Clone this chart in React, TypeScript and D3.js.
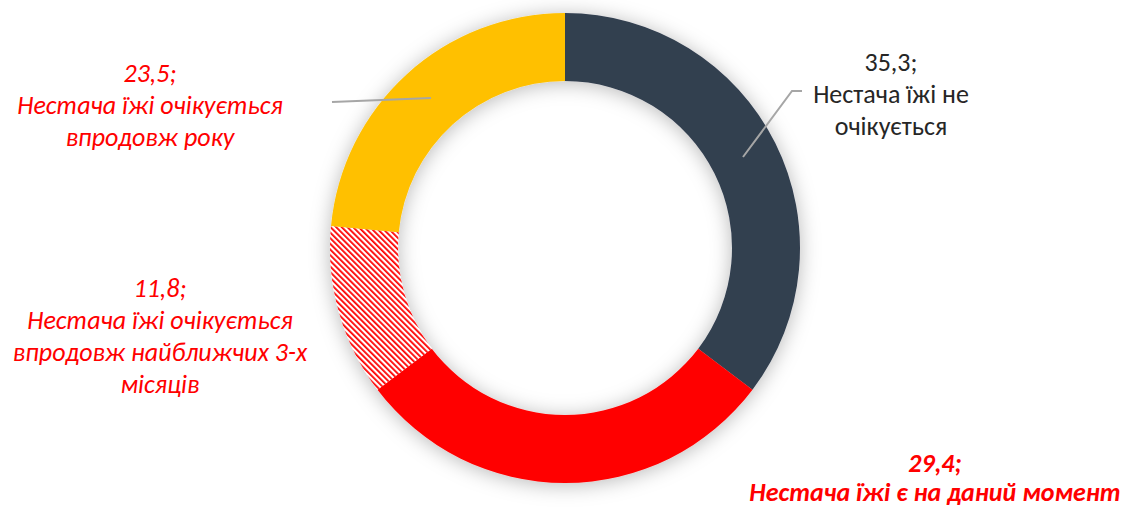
import React from "react";
import * as d3 from "d3";

const categories = [
  "Нестача їжі не очікується",
  "Нестача їжі є на даний момент",
  "Нестача їжі очікується впродовж найближчих 3-х місяців",
  "Нестача їжі очікується впродовж року",
];
const values = [35.3, 29.4, 11.8, 23.5];
const valueLabels = ["35,3;", "29,4;", "11,8;", "23,5;"];
const labelLines = [
  ["Нестача їжі не", "очікується"],
  ["Нестача їжі є на даний момент"],
  ["Нестача їжі очікується", "впродовж найближчих 3-х", "місяців"],
  ["Нестача їжі очікується", "впродовж року"],
];
const colors = ["#333F50", "#FF0000", "url(#hatch)", "#FFC000"];

const W = 1127;
const H = 510;
const cx = 565;
const cy = 248;
const outerR = 235;
const innerR = 167;

const labelPos: { x: number; y: number; color: string; italic: boolean; bold: boolean }[] = [
  { x: 891, y: 71, color: "#262626", italic: false, bold: false },
  { x: 935, y: 472, color: "#FF0000", italic: true, bold: true },
  { x: 160, y: 297, color: "#FF0000", italic: true, bold: false },
  { x: 150, y: 82, color: "#FF0000", italic: true, bold: false },
];

const leaders: ([number, number][] | null)[] = [
  [[743, 157], [792, 91], [802, 91]],
  null,
  null,
  [[431, 98], [332, 102]],
];

export default function App() {
  const pie = d3.pie<number>().sort(null).value((d) => d)(values);
  const arc = d3.arc<d3.PieArcDatum<number>>().innerRadius(innerR).outerRadius(outerR);
  const font = "Carlito, Calibri, Lato, 'Open Sans', sans-serif";
  return (
    <svg width={W} height={H} style={{ display: "block", position: "absolute", left: 0, top: 0 }}>
      <defs>
        <pattern id="hatch" width="4" height="4" patternUnits="userSpaceOnUse" patternTransform="rotate(-45)">
          <rect width="4" height="4" fill="#ffffff" />
          <rect x="0" y="0" width="1.8" height="4" fill="#FF0000" />
        </pattern>
        <filter id="shadow" x="-20%" y="-20%" width="140%" height="140%">
          <feDropShadow dx="0" dy="2" stdDeviation="10" floodColor="#000" floodOpacity="0.28" />
        </filter>
      </defs>
      <rect width={W} height={H} fill="#fff" />
      <g transform={`translate(${cx},${cy})`} filter="url(#shadow)">
        {pie.map((d, i) => (
          <path key={i} d={arc(d) || ""} fill={colors[i]} />
        ))}
      </g>
      {leaders.map((pts, i) =>
        pts ? (
          <path
            key={i}
            d={d3.line()(pts) || ""}
            fill="none"
            stroke="#A6A6A6"
            strokeWidth={2}
          />
        ) : null
      )}
      {labelPos.map((p, i) => (
        <text
          key={i}
          x={p.x}
          y={p.y}
          textAnchor="middle"
          fill={p.color}
          fontFamily={font}
          fontSize={26}
          fontStyle={p.italic ? "italic" : "normal"}
          fontWeight={p.bold ? "bold" : "normal"}
        >
          <tspan x={p.x} dy={0}>{valueLabels[i]}</tspan>
          {labelLines[i].map((l, j) => (
            <tspan key={j} x={p.x} dy={i === 1 ? 29 : 32}>
              {l}
            </tspan>
          ))}
        </text>
      ))}
    </svg>
  );
}
